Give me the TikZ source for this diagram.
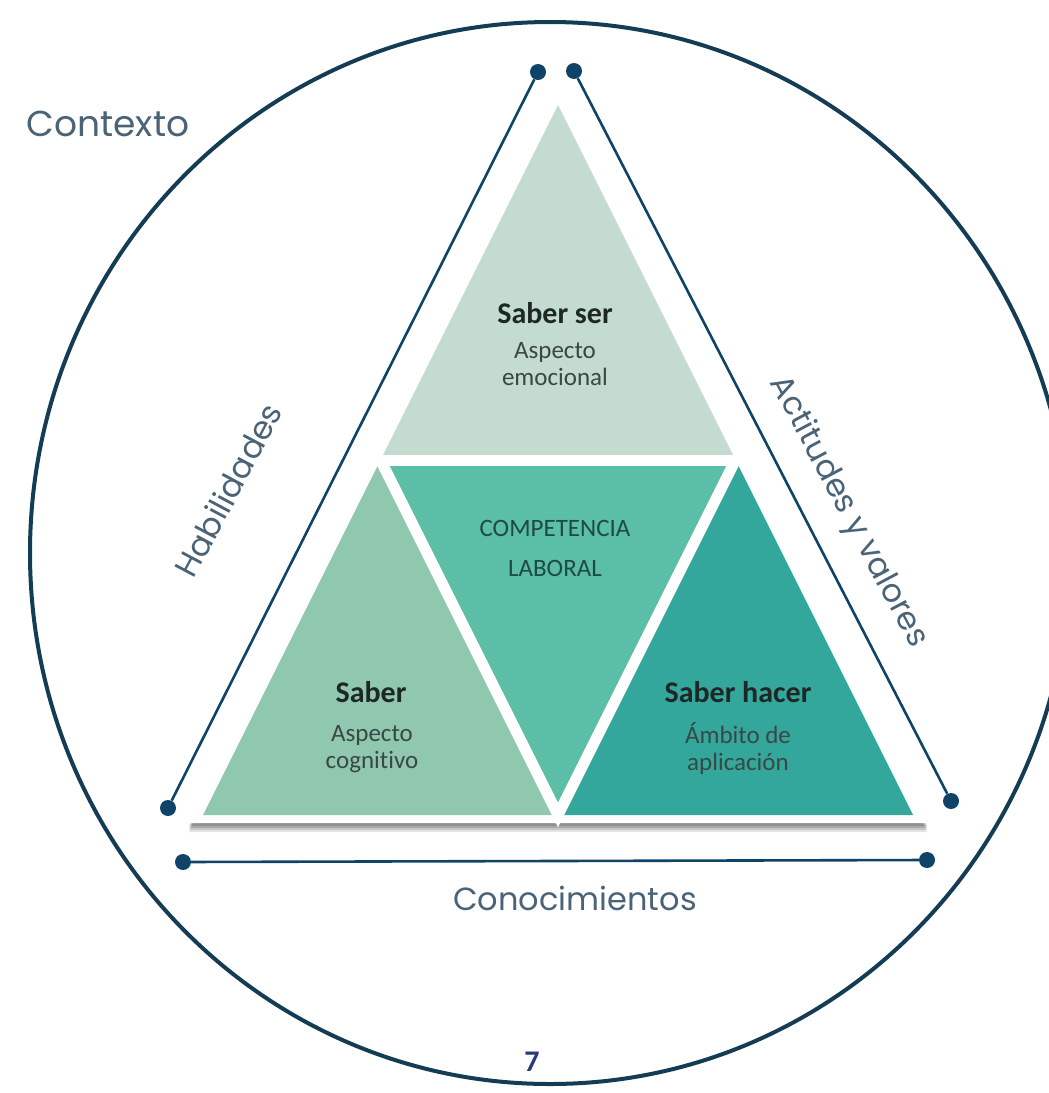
\documentclass[tikz,border=0pt]{standalone}
\usepackage{fontspec}
\setmainfont{Carlito}[Ligatures=NoCommon]
\newfontfamily\geo{Poppins}
\usetikzlibrary{calc}
\definecolor{navy}{HTML}{0F4468}
\definecolor{ringcol}{HTML}{143C55}
\definecolor{labcol}{HTML}{4A6377}
\definecolor{serfill}{HTML}{C3DCCF}
\definecolor{saberfill}{HTML}{8FC8AE}
\definecolor{compfill}{HTML}{5BBEA7}
\definecolor{hacerfill}{HTML}{33A79B}
\definecolor{titcol}{HTML}{1E2626}
\definecolor{subcol}{HTML}{3A4744}
\definecolor{compcol}{HTML}{1F4A44}
\definecolor{numcol}{HTML}{2B3A78}
\tikzset{
  dotnode/.style={circle, fill=navy, inner sep=0pt, minimum size=16pt},
  conn/.style={draw=navy, line width=2.6pt},
  ring/.style={draw=ringcol, line width=4pt},
  outerlab/.style={text=labcol, font=\geo\fontsize{32}{38}\selectfont, inner sep=0pt},
  titlab/.style={text=titcol, font=\bfseries\fontsize{30}{34}\selectfont, inner sep=0pt},
  sublab/.style={text=subcol, font=\fontsize{25}{27}\selectfont, inner sep=0pt, align=center},
  complab/.style={text=compcol, font=\fontsize{25}{40}\selectfont, inner sep=0pt, align=center},
  gapline/.style={draw=white, line width=11pt}
}
\begin{document}
\begin{tikzpicture}[x=1pt,y=-1pt]
\useasboundingbox (0,0) rectangle (1049,1093);
\clip (0,0) rectangle (1049,1093);
\fill[white] (0,0) rectangle (1049,1093);
% context ring
\draw[ring] (550,553) ellipse [x radius=520, y radius=531];
% white base triangle with soft shadow
\coordinate (OA) at (557,86);
\coordinate (OL) at (188,823);
\coordinate (OR) at (926,823);
\foreach \s/\o in {9/0.10, 7/0.12, 5/0.14, 3/0.16} {
  \fill[black, opacity=\o] ($(OA)+(1,\s)$) -- ($(OL)+(1,\s)$) -- ($(OR)+(1,\s)$) -- cycle;
}
\fill[white] (OA) -- (OL) -- (OR) -- cycle;
% inner triangle
\coordinate (A) at (558,105);
\coordinate (BL) at (203,815);
\coordinate (BR) at (913,815);
\coordinate (ML) at ($(A)!0.5!(BL)$);
\coordinate (MR) at ($(A)!0.5!(BR)$);
\coordinate (MB) at ($(BL)!0.5!(BR)$);
\fill[serfill] (A) -- (ML) -- (MR) -- cycle;
\fill[saberfill] (ML) -- (BL) -- (MB) -- cycle;
\fill[compfill] (ML) -- (MR) -- (MB) -- cycle;
\fill[hacerfill] (MR) -- (MB) -- (BR) -- cycle;
\draw[gapline] (ML) -- (MR);
\draw[gapline] (ML) -- (MB) -- (MR);
% texts inside
\node[titlab] (ser) at (555,313) {Saber ser};
\node[sublab] (serd) at (555,364) {Aspecto\\emocional};
\node[complab] (comp) at (555,548) {COMPETENCIA\\LABORAL};
\node[titlab] (sab) at (371,692) {Saber};
\node[sublab] (sabd) at (372,749) {Aspecto\\cognitivo};
\node[titlab] (hac) at (738,692) {Saber hacer};
\node[sublab] (hacd) at (738,749) {Ámbito de\\aplicación};
% connectors with dots
\node[dotnode] (d1) at (538,72) {};
\node[dotnode] (d2) at (168,808) {};
\node[dotnode] (d3) at (574,71) {};
\node[dotnode] (d4) at (951,801) {};
\node[dotnode] (d5) at (183,862) {};
\node[dotnode] (d6) at (927,860) {};
\draw[conn] (d1) -- (d2);
\draw[conn] (d3) -- (d4);
\draw[conn] (d5) -- (d6);
% outer labels
\node[outerlab, font=\geo\fontsize{36}{40}\selectfont] (ctx) at (108,124) {Contexto};
\node[outerlab, rotate=62] (hab) at (228,490) {Habilidades};
\node[outerlab, rotate=-62] (act) at (848,512) {Actitudes y valores};
\node[outerlab] (con) at (575,898) {Conocimientos};
\node[text=numcol, font=\bfseries\fontsize{30}{32}\selectfont, inner sep=0pt] (num) at (532,1062) {7};
\end{tikzpicture}
\end{document}
